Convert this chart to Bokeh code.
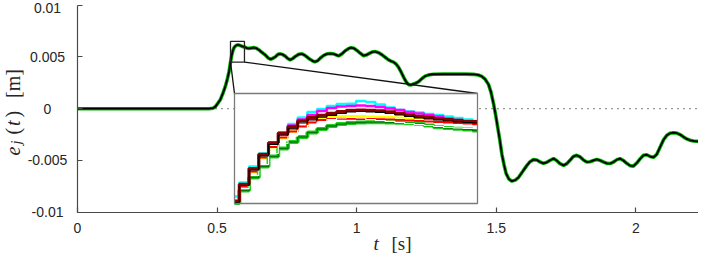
from bokeh.plotting import figure
from bokeh.models import Range1d, Label, FixedTicker, CustomJSTickFormatter
from bokeh.embed import file_html
from bokeh.resources import INLINE
import math

# ---------------- data ----------------
t_main = [0.000, 0.470, 0.485, 0.494, 0.502, 0.512, 0.521, 0.530, 0.537, 0.543,
          0.548, 0.552, 0.556, 0.560, 0.564, 0.570, 0.576, 0.582, 0.588, 0.594,
          0.598, 0.607, 0.618, 0.631, 0.640, 0.649, 0.660, 0.673, 0.683, 0.691,
          0.700, 0.709, 0.718, 0.727, 0.736, 0.744, 0.753, 0.762, 0.771, 0.780,
          0.792, 0.804, 0.813, 0.822, 0.831, 0.840, 0.850, 0.861, 0.870, 0.882,
          0.894, 0.905, 0.917, 0.926, 0.935, 0.947, 0.959, 0.970, 0.980, 0.990,
          1.001, 1.013, 1.025, 1.037, 1.049, 1.058, 1.067, 1.079, 1.091, 1.103,
          1.114, 1.123, 1.132, 1.141, 1.150, 1.159, 1.168, 1.177, 1.186, 1.195,
          1.204, 1.213, 1.222, 1.234, 1.245, 1.260, 1.275, 1.310, 1.347, 1.390,
          1.418, 1.435, 1.448, 1.460, 1.472, 1.481, 1.490, 1.498, 1.505, 1.513,
          1.520, 1.528, 1.535, 1.545, 1.556, 1.568, 1.580, 1.595, 1.609, 1.621,
          1.633, 1.645, 1.657, 1.669, 1.681, 1.693, 1.705, 1.716, 1.728, 1.741,
          1.753, 1.765, 1.776, 1.788, 1.800, 1.812, 1.824, 1.836, 1.848, 1.860,
          1.872, 1.884, 1.896, 1.908, 1.920, 1.932, 1.943, 1.955, 1.967, 1.979,
          1.991, 2.003, 2.015, 2.027, 2.039, 2.051, 2.063, 2.075, 2.087, 2.099,
          2.110, 2.122, 2.134, 2.146, 2.158, 2.170, 2.182, 2.194, 2.206, 2.218,
          2.235, 2.250]
e_main = [0.0, 0.0, 0.00005, 0.0002, 0.0005, 0.0009, 0.0015, 0.0022, 0.0029, 0.0036,
          0.00450, 0.00511, 0.00557, 0.00586, 0.00602, 0.00614, 0.00617, 0.00611, 0.00604, 0.00599,
          0.00596, 0.00585, 0.00583, 0.00590, 0.00585, 0.00570, 0.00545, 0.00518, 0.00490, 0.00478,
          0.00487, 0.00502, 0.00525, 0.00530, 0.00522, 0.00508, 0.00485, 0.00472, 0.00485, 0.00505,
          0.00525, 0.00530, 0.00518, 0.00500, 0.00480, 0.00465, 0.00452, 0.00465, 0.00490, 0.00515,
          0.00530, 0.00533, 0.00530, 0.00520, 0.00510, 0.00530, 0.00560, 0.00580, 0.00590, 0.00583,
          0.00563, 0.00535, 0.00512, 0.00522, 0.00540, 0.00550, 0.00552, 0.00540, 0.00520, 0.00495,
          0.00472, 0.00460, 0.00450, 0.00432, 0.00400, 0.00355, 0.00305, 0.00260, 0.00232, 0.00230,
          0.00240, 0.00248, 0.00262, 0.00292, 0.00315, 0.00328, 0.00333, 0.00334, 0.00334, 0.00334,
          0.00332, 0.00326, 0.00312, 0.00285, 0.00235, 0.00160, 0.00050, -0.00065, -0.00180, -0.00310,
          -0.00440, -0.00545, -0.00625, -0.00680, -0.00700, -0.00690, -0.00663, -0.00605, -0.00550, -0.00512,
          -0.00492, -0.00495, -0.00515, -0.00528, -0.00518, -0.00498, -0.00482, -0.00500, -0.00530, -0.00548,
          -0.00530, -0.00495, -0.00462, -0.00450, -0.00465, -0.00495, -0.00515, -0.00512, -0.00500, -0.00490,
          -0.00500, -0.00515, -0.00528, -0.00530, -0.00515, -0.00492, -0.00482, -0.00500, -0.00528, -0.00550,
          -0.00555, -0.00525, -0.00485, -0.00450, -0.00445, -0.00462, -0.00470, -0.00440, -0.00370, -0.00300,
          -0.00260, -0.00238, -0.00232, -0.00235, -0.00250, -0.00272, -0.00292, -0.00305, -0.00312, -0.00315,
          -0.00316, -0.00316]

# zoomed window (inset) samples
t_zoom = [0.548, 0.550, 0.552, 0.554, 0.556, 0.558, 0.560, 0.562, 0.564, 0.566,
          0.568, 0.570, 0.572, 0.574, 0.576, 0.578, 0.580, 0.582, 0.584, 0.586,
          0.588, 0.590, 0.592, 0.594, 0.596, 0.598]
e_zoom_cyan = [0.004627, 0.004882, 0.005173, 0.005409, 0.005609, 0.005791, 0.005945, 0.006064, 0.006164, 0.006218,
               0.006273, 0.006309, 0.006313, 0.006364, 0.006345, 0.006300, 0.006245, 0.006200, 0.006173, 0.006155,
               0.006127, 0.006109, 0.006082, 0.006055, 0.006027, 0.006000]
e_zoom_magenta = [0.004555, 0.004845, 0.005136, 0.005382, 0.005591, 0.005773, 0.005918, 0.006027, 0.006109, 0.006182,
                  0.006236, 0.006264, 0.006273, 0.006282, 0.006273, 0.006255, 0.006227, 0.006200, 0.006164, 0.006136,
                  0.006109, 0.006082, 0.006045, 0.006018, 0.005991, 0.005973]
e_zoom_yellow = [0.004518, 0.004791, 0.005064, 0.005318, 0.005518, 0.005682, 0.005809, 0.005900, 0.005982, 0.006045,
                 0.006082, 0.006091, 0.006091, 0.006087, 0.006082, 0.006076, 0.006071, 0.006064, 0.006058, 0.006053,
                 0.006045, 0.006036, 0.006027, 0.006018, 0.006009, 0.006000]
e_zoom_red = [0.004518, 0.004809, 0.005082, 0.005336, 0.005527, 0.005700, 0.005809, 0.005900, 0.005973, 0.006018,
              0.006036, 0.006045, 0.006045, 0.006040, 0.006036, 0.006031, 0.006027, 0.006018, 0.006009, 0.006000,
              0.005991, 0.005982, 0.005973, 0.005964, 0.005955, 0.005945]
e_zoom_green = [0.004509, 0.004736, 0.004973, 0.005173, 0.005355, 0.005500, 0.005618, 0.005709, 0.005791, 0.005855,
                0.005909, 0.005945, 0.005964, 0.005973, 0.005978, 0.005978, 0.005973, 0.005967, 0.005960, 0.005949,
                0.005918, 0.005887, 0.005873, 0.005858, 0.005845, 0.005827]
e_zoom_white = [0.004518, 0.004770, 0.005010, 0.005209, 0.005409, 0.005591, 0.005727, 0.005836, 0.005918, 0.005982,
                0.006027, 0.006055, 0.006064, 0.006055, 0.006027, 0.006009, 0.005991, 0.005973, 0.005955, 0.005936,
                0.005918, 0.005900, 0.005882, 0.005873, 0.005864, 0.005864]
e_zoom_darkred = [0.004535, 0.004850, 0.005135, 0.005395, 0.005605, 0.005780, 0.005895, 0.006000, 0.006060, 0.006105,
                  0.006140, 0.006170, 0.006195, 0.006200, 0.006195, 0.006185, 0.006165, 0.006140, 0.006110, 0.006085,
                  0.006065, 0.006045, 0.006025, 0.006010, 0.005995, 0.005990]
e_zoom_black = [0.004518, 0.004827, 0.005109, 0.005367, 0.005573, 0.005745, 0.005858, 0.005964, 0.006022, 0.006069,
                0.006104, 0.006136, 0.006167, 0.006173, 0.006167, 0.006158, 0.006136, 0.006109, 0.006082, 0.006055,
                0.006036, 0.006018, 0.006000, 0.005985, 0.005973, 0.005964]

zoom_t_window = [0.548, 0.598]
zoom_e_window = [0.0045, 0.0065]

x_ticks = [0, 0.5, 1, 1.5, 2]
y_ticks = [-0.01, -0.005, 0, 0.005, 0.01]
y_tick_labels = ["-0.01", "-0.005", "0", "0.005", "0.01"]

assert len(t_main) == len(e_main)

# ---------------- layout (pixels of the reference picture) ----------------
W, H = 698, 254
PX_T0, PX_PER_T = 77.0, 279.2          # t = 0 at x = 77
PY_TOP, PY_BOT = 4.7, 211.7            # y = 0.01 and y = -0.01
YMIN, YMAX = -0.01, 0.01


def tx(px):  # picture pixel x -> data x
    return (px - PX_T0) / PX_PER_T


def ty(py):  # picture pixel y -> data y
    return YMAX - (py - PY_TOP) * (YMAX - YMIN) / (PY_BOT - PY_TOP)


p = figure(width=W, height=H,
           x_range=Range1d(tx(0), tx(W)), y_range=Range1d(ty(H), ty(0)),
           output_backend="svg", toolbar_location=None, min_border=0)
p.outline_line_color = None
p.grid.visible = False
p.background_fill_color = "white"
p.border_fill_color = "white"

AX = "#4a4a4a"
TXT = "#262626"
for ax in (p.xaxis, p.yaxis):
    ax.axis_line_color = AX
    ax.axis_line_width = 1.2
    ax.major_tick_line_color = AX
    ax.major_tick_line_width = 1.2
    ax.major_tick_in = 5
    ax.major_tick_out = 0
    ax.minor_tick_line_color = None
    ax.major_label_text_font = "Liberation Sans"
    ax.major_label_text_font_size = "14px"
    ax.major_label_text_color = TXT
p.xaxis.ticker = FixedTicker(ticks=x_ticks)
p.yaxis.ticker = FixedTicker(ticks=y_ticks)
p.xaxis.fixed_location = YMIN
p.yaxis.fixed_location = 0.0
p.xaxis.bounds = (0.0, tx(W))
p.yaxis.bounds = (YMIN, YMAX)
p.xaxis.major_label_standoff = 11
p.yaxis.formatter = CustomJSTickFormatter(code="return ''")

# y tick labels, centred as in the reference
for v, s in zip(y_ticks, y_tick_labels):
    ly = ty(7.6) if v == YMAX else v
    p.add_layout(Label(x=tx(47), y=ly, text=s, text_align="center", text_baseline="middle",
                       text_font="Liberation Sans", text_font_size="14px", text_color=TXT))

# zero reference line
p.line([0.0, tx(W)], [0, 0], line_color="#333333", line_width=1.2, line_dash="1 5")

# main curves
p.line(t_main, e_main, line_color="#00b000", line_width=3.6)
p.line(t_main, e_main, line_color="black", line_width=1.8)

# zoom box
zt0, zt1 = zoom_t_window
ze0, ze1 = zoom_e_window
p.line([zt0, zt1, zt1, zt0, zt0], [ze0, ze0, ze1, ze1, ze0], line_color="#222222", line_width=1.3)

# inset placement (picture pixels)
X0, X1 = tx(234), tx(477)
YT, YB = ty(93), ty(203)

p.segment(x0=[zt0, zt1], y0=[ze0, ze0], x1=[X0, X1], y1=[YT, YT], line_color="#111111", line_width=1.3)

p.quad(left=[X0], right=[X1], bottom=[YB], top=[YT], fill_color="white", line_color=None)


def zx(t):
    return X0 + (t - zt0) / (zt1 - zt0) * (X1 - X0)


def zy(e):
    return YB + (e - ze0) / (ze1 - ze0) * (YT - YB)


ZX = [zx(t) for t in t_zoom]
series = [
    (e_zoom_cyan, "#00ffff", 2.5),
    (e_zoom_magenta, "#ff00ff", 2.5),
    (e_zoom_yellow, "#ffff00", 2.2),
    (e_zoom_red, "#ff0000", 2.2),
    (e_zoom_green, "#22cc22", 4.0),
    (e_zoom_green, "#007a00", 1.3),
    (e_zoom_white, "#ffffff", 1.2),
    (e_zoom_darkred, "#8b0000", 3.2),
    (e_zoom_black, "#000000", 1.2),
]
for ys, c, w in series:
    p.step(ZX, [zy(v) for v in ys], mode="center", line_color=c, line_width=w)

p.quad(left=[X0], right=[X1], bottom=[YB], top=[YT], fill_color=None, line_color="#7a7a7a", line_width=1.3)

# axis titles (positioned by the centre of each piece)
SERIF = "Liberation Serif"
p.add_layout(Label(x=tx(373), y=ty(243), text="t", text_font=SERIF, text_font_style="italic",
                   text_font_size="19px", text_color=TXT, text_align="left", text_baseline="middle"))
p.add_layout(Label(x=tx(391), y=ty(243), text="[s]", text_font=SERIF,
                   text_font_size="19px", text_color=TXT, text_align="left", text_baseline="middle"))

ang = math.pi / 2
pieces = [  # (text, centre px x, start px y, size, italic)
    ("e", 12, 155, "20px", True),
    ("j", 16, 144, "14px", True),
    ("(", 12, 134, "20px", False),
    ("t", 12, 125.5, "20px", True),
    (")", 12, 117, "20px", False),
    ("[m]", 12, 97.5, "20px", False),
]
for s, bx, by, fs, it in pieces:
    p.add_layout(Label(x=tx(bx), y=ty(by), text=s, angle=ang, text_font=SERIF,
                       text_font_style="italic" if it else "normal", text_font_size=fs,
                       text_color=TXT, text_align="left", text_baseline="middle"))

open("out.html", "w").write(file_html(p, INLINE))
